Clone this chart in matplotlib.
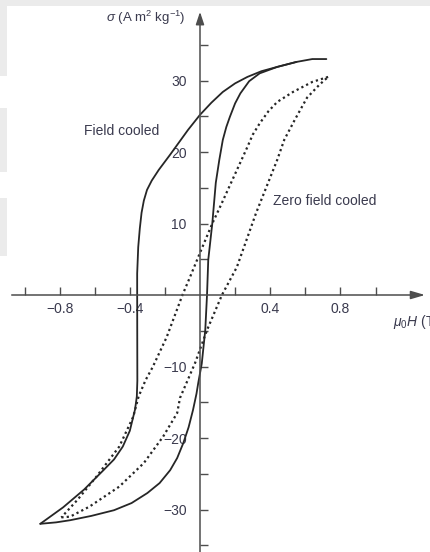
import matplotlib
matplotlib.use("Agg")
import matplotlib.pyplot as plt
from matplotlib.patches import Rectangle

plt.rcParams['font.family'] = ['Liberation Sans', 'DejaVu Sans']
plt.rcParams['mathtext.fontset'] = 'custom'
plt.rcParams['mathtext.rm'] = 'Liberation Sans'
plt.rcParams['mathtext.it'] = 'Liberation Sans:italic'

# Field cooled loop, branch coming down from positive saturation (mu0H in T, sigma in A m2/kg)
fc_down_h = [0.72, 0.64, 0.55, 0.44, 0.35, 0.27, 0.20, 0.13, 0.065, 0.0,
             -0.068, -0.171, -0.235, -0.275, -0.302, -0.320, -0.333, -0.343, -0.352, -0.358,
             -0.358, -0.357, -0.36, -0.37, -0.40, -0.44, -0.49, -0.55, -0.66, -0.78, -0.91]
fc_down_s = [33.0, 33.0, 32.6, 31.9, 31.3, 30.5, 29.6, 28.4, 26.9, 25.2,
             23.1, 19.6, 17.5, 16.0, 14.7, 13.2, 11.5, 9.3, 6.7, 3.0,
             0.0, -12.0, -14.2, -16.0, -19.0, -21.2, -23.0, -24.5, -27.2, -29.7, -32.0]

# Field cooled loop, branch going back up from negative saturation
fc_up_h = [-0.91, -0.82, -0.74, -0.62, -0.49, -0.39, -0.30, -0.23, -0.17, -0.13,
           -0.095, -0.065, -0.04, -0.02, -0.01, 0.01, 0.03, 0.04, 0.047, 0.07,
           0.09, 0.11, 0.13, 0.15, 0.17, 0.20, 0.23, 0.28, 0.34, 0.44, 0.55]
fc_up_s = [-32.0, -31.8, -31.5, -30.9, -30.1, -29.1, -27.7, -26.3, -24.5, -22.8,
           -20.7, -18.5, -16.1, -13.8, -12.3, -9.6, -4.9, 0.0, 4.9, 10.0,
           15.7, 18.9, 21.7, 23.5, 24.9, 26.8, 28.2, 29.9, 31.0, 31.9, 32.6]

# Zero field cooled loop, descending branch
zfc_down_h = [0.73, 0.64, 0.53, 0.44, 0.39, 0.34, 0.30, 0.27, 0.114, 0.07, 0.0, -0.057, -0.10,
              -0.19, -0.27, -0.31, -0.35, -0.38, -0.46, -0.59, -0.70, -0.79]
zfc_down_s = [30.5, 29.8, 28.4, 27.0, 25.7, 24.0, 22.4, 20.7, 12.3, 10.0, 5.9, 2.5, 0.0,
              -5.9, -10.1, -11.9, -14.2, -17.0, -21.2, -25.4, -28.7, -31.1]

# Zero field cooled loop, ascending branch
zfc_up_h = [-0.79, -0.74, -0.63, -0.46, -0.32, -0.21, -0.13, -0.114, -0.07, -0.028,
            0.04, 0.125, 0.21, 0.32, 0.44, 0.48, 0.54, 0.61, 0.68, 0.73]
zfc_up_s = [-31.1, -31.0, -29.6, -26.8, -23.5, -19.8, -16.5, -14.4, -11.9, -9.5,
            -4.9, 0.0, 3.9, 11.5, 18.9, 21.7, 24.5, 27.6, 29.4, 30.5]

x_ticks = [-1.0, -0.8, -0.6, -0.4, -0.2, 0.2, 0.4, 0.6, 0.8, 1.0]
x_tick_labels = ['', '\u22120.8', '', '\u22120.4', '', '', '0.4', '', '0.8', '']
y_ticks = [-35, -30, -25, -20, -15, -10, -5, 5, 10, 15, 20, 25, 30, 35]
y_tick_labels = ['', '\u221230', '', '\u221220', '', '\u221210', '', '', '10', '', '20', '', '30', '']

W, H = 430, 552
fig = plt.figure(figsize=(W / 100, H / 100), dpi=100)
fig.patch.set_facecolor('white')

# faint grey background shapes along the top and left edges
shade = '#ebebeb'
for (x0, y0, w, h) in [(0, 0, W, 6), (0, 0, 7, 76), (0, 108, 7, 64), (0, 198, 7, 58)]:
    fig.add_artist(Rectangle((x0 / W, 1 - (y0 + h) / H), w / W, h / H,
                             transform=fig.transFigure, facecolor=shade,
                             edgecolor='none', zorder=-5))

ax = fig.add_axes([0, 0, 1, 1])
ax.patch.set_alpha(0)
ax.set_xlim(-200 / 175.5, 230 / 175.5)
ax.set_ylim(-257 / 7.15, 295 / 7.15)

axis_col = '#4d4d4d'
curve_col = '#262626'
text_col = '#3a3a4e'

for side in ('top', 'right'):
    ax.spines[side].set_visible(False)
ax.spines['left'].set_position(('data', 0))
ax.spines['bottom'].set_position(('data', 0))
ax.spines['left'].set_bounds(-36.5, 38.5)
ax.spines['bottom'].set_bounds(-1.07, 1.24)
for side in ('left', 'bottom'):
    ax.spines[side].set_color(axis_col)
    ax.spines[side].set_linewidth(1.1)

# arrow heads on the axes
ax.annotate('', xy=(0, 39.6), xytext=(0, 38.0),
            arrowprops=dict(arrowstyle='-|>,head_length=0.75,head_width=0.25',
                            color=axis_col, lw=1.1, shrinkA=0, shrinkB=0),
            annotation_clip=False)
ax.annotate('', xy=(1.282, 0), xytext=(1.22, 0),
            arrowprops=dict(arrowstyle='-|>,head_length=0.85,head_width=0.25',
                            color=axis_col, lw=1.1, shrinkA=0, shrinkB=0),
            annotation_clip=False)

ax.set_xticks(x_ticks)
ax.set_xticklabels(x_tick_labels)
ax.set_yticks(y_ticks)
ax.set_yticklabels(y_tick_labels)
ax.tick_params(axis='x', direction='in', length=5.8, width=1.0, color=axis_col,
               labelsize=10, labelcolor=text_col, pad=5)
ax.tick_params(axis='y', direction='in', length=5.8, width=1.0, color=axis_col,
               labelsize=10, labelcolor=text_col, pad=9.5)

# field cooled loop (solid)
ax.plot(fc_down_h, fc_down_s, color=curve_col, lw=1.3,
        solid_joinstyle='round', solid_capstyle='round')
ax.plot(fc_up_h, fc_up_s, color=curve_col, lw=1.3,
        solid_joinstyle='round', solid_capstyle='round')

# zero field cooled loop (dotted)
dot_style = (0, (1.0, 1.4))
ax.plot(zfc_down_h, zfc_down_s, color=curve_col, lw=1.6, linestyle=dot_style)
ax.plot(zfc_up_h, zfc_up_s, color=curve_col, lw=1.6, linestyle=dot_style)

ax.text(-0.08, 38.7, r'$\sigma$ (A m$^2$ kg$^{-1}$)', ha='right', va='center',
        fontsize=9.5, color=text_col)
ax.text(1.10, -3.8, r'$\mu_0H$ (T)', ha='left', va='center',
        fontsize=10, color=text_col, clip_on=False)
ax.text(-0.661, 22.9, 'Field cooled', ha='left', va='center',
        fontsize=10, color=text_col)
ax.text(0.416, 13.1, 'Zero field cooled', ha='left', va='center',
        fontsize=10, color=text_col)

fig.savefig('out.png', dpi=100)
